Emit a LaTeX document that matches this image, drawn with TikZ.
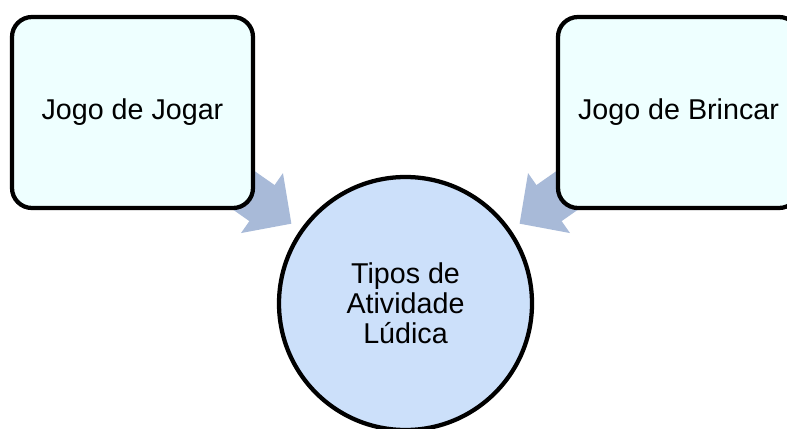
\documentclass[tikz,border=0pt]{standalone}
\usepackage{fontspec}
\setmainfont{Liberation Sans}
\usetikzlibrary{arrows.meta}
\usetikzlibrary{backgrounds}
\definecolor{caixafill}{HTML}{EEFFFF}
\definecolor{circfill}{HTML}{CCE0FA}
\definecolor{setacor}{HTML}{A8BAD8}

\begin{document}
\begin{tikzpicture}[x=0.75pt,y=-0.75pt,
  caixa/.style={draw,line width=3.2pt,rounded corners=15pt,fill=caixafill,
    minimum width=180.75pt,minimum height=143.25pt,inner sep=0pt,
    font=\fontsize{21.5}{22.5}\selectfont},
  centro/.style={circle,draw,line width=3.2pt,fill=circfill,minimum size=189.75pt,
    inner sep=0pt,align=center,font=\fontsize{21.5}{22.5}\selectfont},
  seta/.style={setacor,line width=33pt,shorten >=7.9pt,
    -{Triangle[length=27pt 0 0,width=53.25pt 0 0]}}]
  \useasboundingbox (0,0) rectangle (787,428);
  \node[caixa] (jogar) at (132.5,112.5) {Jogo de Jogar};
  \node[caixa] (brincar) at (678.5,112.5) {Jogo de Brincar};
  \node[centro] (tipos) at (405.5,303.5) {Tipos de\\Atividade\\Lúdica};
  \begin{scope}[on background layer]
    \draw[seta] (jogar.center) -- (tipos);
    \draw[seta] (brincar.center) -- (tipos);
  \end{scope}
\end{tikzpicture}
\end{document}
